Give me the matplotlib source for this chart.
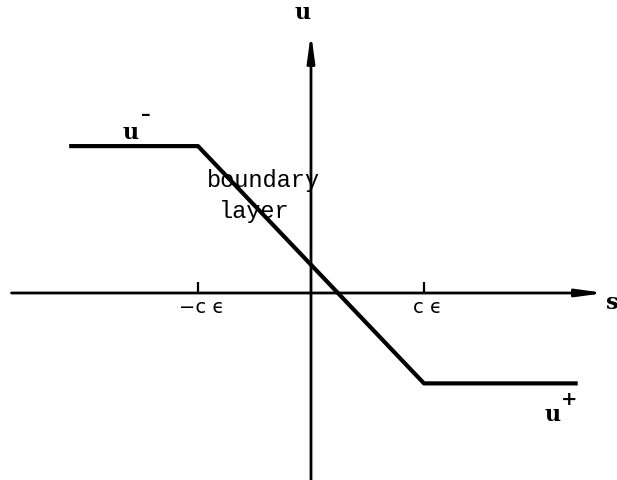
import matplotlib.pyplot as plt

# piecewise-linear profile u(s) through the boundary layer, c*eps = 1
s_pts = [-2.14, -1.0, 1.0, 2.36]
u_pts = [1.30, 1.30, -0.80, -0.80]

tick_pos = [-1.0, 1.0]
tick_labels = ["\u2212c \u03f5", "c \u03f5"]

mono = ["Liberation Mono", "DejaVu Sans Mono"]
serif = ["DejaVu Serif"]

if __name__ == "__main__":
    fig = plt.figure(figsize=(6.17, 4.80), dpi=100)
    ax = fig.add_axes([0, 0, 1, 1])
    ax.set_xlim(-2.752, 2.708)
    ax.set_ylim(-1.655, 2.593)
    ax.axis("off")

    # coordinate axes with arrow heads
    arrow = dict(arrowstyle="-|>,head_length=1.6,head_width=0.22",
                 lw=2.0, color="black", shrinkA=0, shrinkB=0)
    ax.annotate("", xy=(2.60, 0), xytext=(-2.65, 0), arrowprops=arrow)
    ax.annotate("", xy=(0, 2.30), xytext=(0, -1.70), arrowprops=arrow)

    # ticks at -c eps and c eps
    ax.vlines(tick_pos, 0, 0.10, color="black", lw=1.6)
    for x, lab in zip(tick_pos, tick_labels):
        ax.text(x + 0.03, -0.13, lab, ha="center", va="center",
                fontsize=14, family=["DejaVu Sans"])

    ax.plot(s_pts, u_pts, color="black", lw=3.0, solid_capstyle="butt")

    ax.text(-0.07, 2.48, "u", ha="center", va="center", fontsize=16,
            family=serif, weight="bold")
    ax.text(2.61, -0.09, "s", ha="left", va="center", fontsize=16,
            family=serif, weight="bold")

    ax.text(-1.60, 1.416, "u", ha="center", va="center", fontsize=16,
            family=serif, weight="bold")
    ax.text(-1.46, 1.575, "\u2013", ha="center", va="center", fontsize=14,
            family=serif, weight="bold")
    ax.text(2.14, -1.08, "u", ha="center", va="center", fontsize=16,
            family=serif, weight="bold")
    ax.text(2.28, -0.947, "+", ha="center", va="center", fontsize=14,
            family=serif, weight="bold")

    ax.text(-0.425, 1.0, "boundary", ha="center", va="center", fontsize=17,
            family=mono)
    ax.text(-0.50, 0.717, "layer", ha="center", va="center", fontsize=17,
            family=mono)

    fig.savefig("out.png", dpi=100)
